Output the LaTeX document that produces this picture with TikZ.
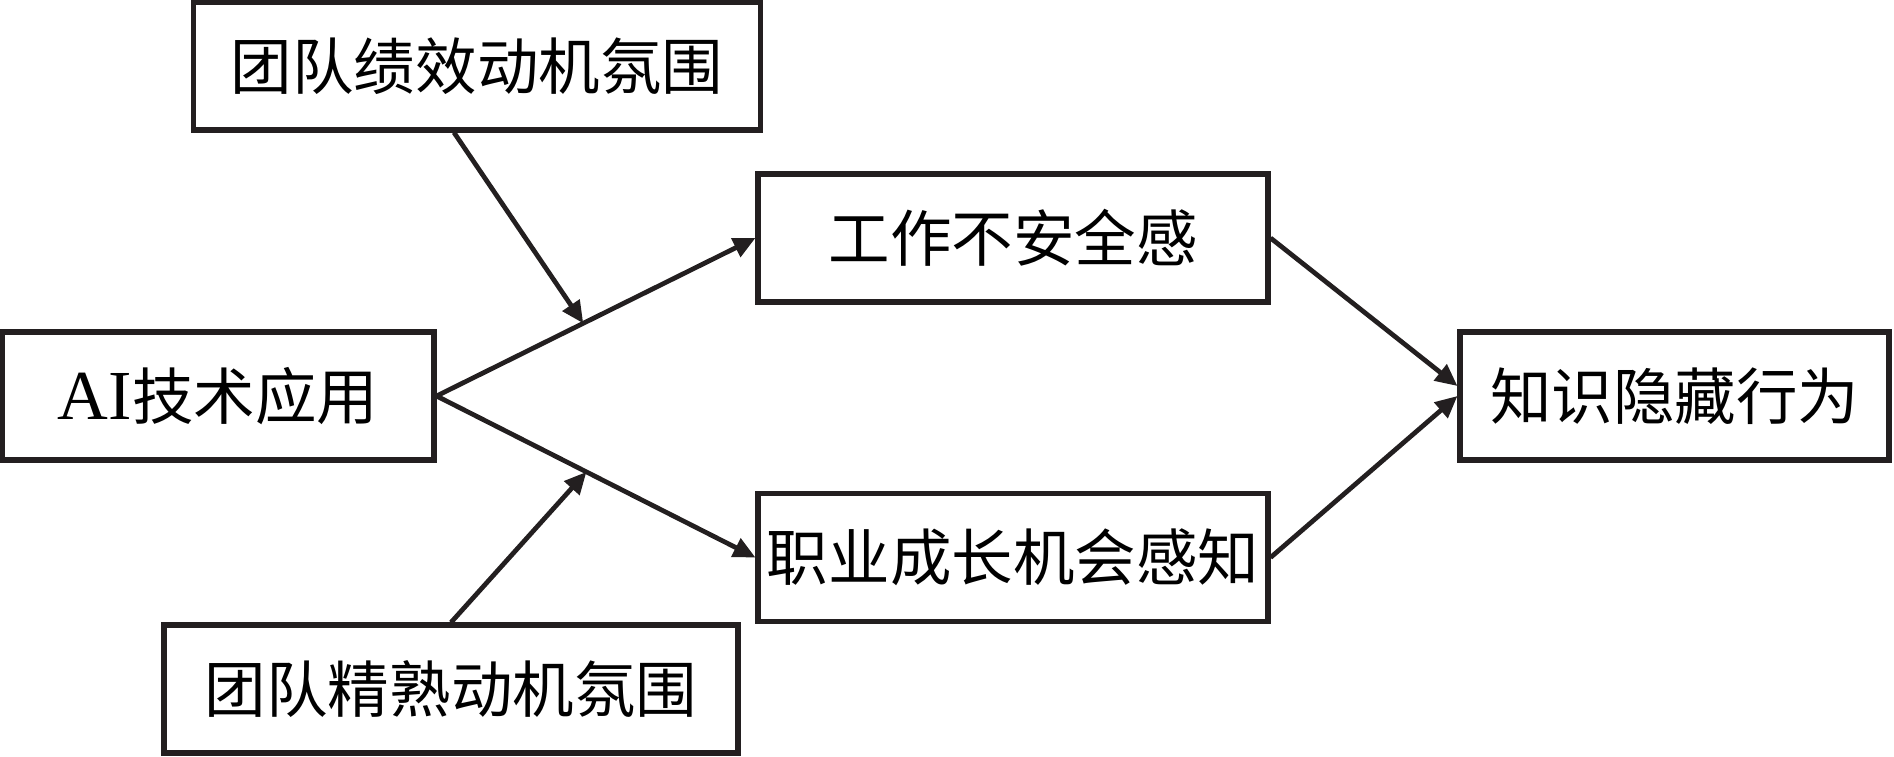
\documentclass[tikz,border=0pt]{standalone}
\usepackage{fontspec}
\usepackage{xcolor}
\usepackage{tikz}
\usetikzlibrary{arrows.meta, positioning, calc}
\setmainfont{Liberation Serif}
\newfontfamily\cjk{Noto Sans CJK SC}
\newfontfamily\latin{Liberation Serif}
\definecolor{inkC}{HTML}{231F20}

\begin{document}
\begin{tikzpicture}[font=\cjk\fontsize{17.5}{20}\selectfont,
		box/.style={draw=inkC, line width=1.45pt, rectangle, minimum height=1.28cm, inner sep=0pt},
		link/.style={draw=inkC, line width=1.35pt, -{Triangle[length=0.22cm, width=0.2cm]}}]
			\useasboundingbox (0,0) rectangle (18.94,7.56);
			
			% variables (centres)
			\node[box, minimum width=5.67cm] (perf) at (4.77,6.90) {团队绩效动机氛围};
			\node[box, minimum width=4.32cm] (ai) at (2.18,3.60) {{\latin\fontsize{20}{20}\selectfont AI}技术应用};
			\node[box, minimum width=5.10cm] (insec) at (10.13,5.18) {工作不安全感};
			\node[box, minimum width=5.10cm] (career) at (10.13,1.985) {职业成长机会感知};
			\node[box, minimum width=4.29cm] (hide) at (16.745,3.60) {知识隐藏行为};
			\node[box, minimum width=5.74cm] (mast) at (4.51,0.67) {团队精熟动机氛围};
			
			% main paths
			\draw[link] (ai.east) -- coordinate[pos=0.46] (m1) (insec.west);
			\draw[link] (ai.east) -- coordinate[pos=0.47] (m2) (career.west);
			\draw[link] (insec.east) -- ([yshift=0.1cm]hide.west);
			\draw[link] (career.east) -- (hide.west);
			
			% moderators
			\draw[link] ([xshift=-0.23cm]perf.south) -- (m1);
			\draw[link] (mast.north) -- (m2);
		\end{tikzpicture}
\end{document}
